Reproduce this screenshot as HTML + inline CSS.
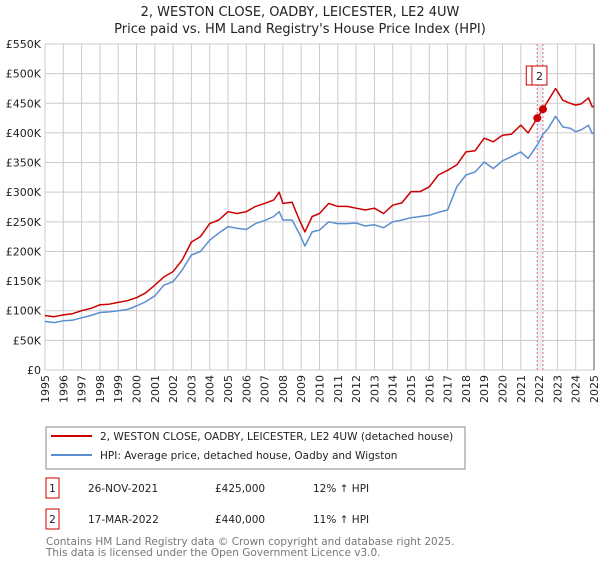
<!DOCTYPE html>
<html><head><meta charset="utf-8"><style>
body{margin:0;background:#fff;font-family:"DejaVu Sans","Liberation Sans",sans-serif;}
svg text{font-family:"DejaVu Sans","Liberation Sans",sans-serif;}
</style></head><body>
<svg width="600" height="560" viewBox="0 0 600 560">
<text x="300" y="16" text-anchor="middle" font-size="13" fill="#222">2, WESTON CLOSE, OADBY, LEICESTER, LE2 4UW</text>
<text x="300" y="33" text-anchor="middle" font-size="13" fill="#222">Price paid vs. HM Land Registry's House Price Index (HPI)</text>
<g id="grid"></g>
<g id="band"></g>
<g id="series"></g>
<g id="axes"></g>
<g id="markers"></g>
<rect x="46" y="427" width="419" height="42" fill="#fff" stroke="#888"/>
<line x1="51" y1="436" x2="92" y2="436" stroke="#cc0000" stroke-width="2"/>
<text x="100" y="440" font-size="10.5" fill="#222">2, WESTON CLOSE, OADBY, LEICESTER, LE2 4UW (detached house)</text>
<line x1="51" y1="455" x2="92" y2="455" stroke="#5b8fd0" stroke-width="2"/>
<text x="100" y="459" font-size="10.5" fill="#222">HPI: Average price, detached house, Oadby and Wigston</text>
<g>
<rect x="46" y="478" width="13" height="20" fill="#fff" stroke="#cc0000"/>
<text x="52.5" y="492" text-anchor="middle" font-size="10.5" fill="#222">1</text>
<text x="88" y="492" font-size="10.5" fill="#222">26-NOV-2021</text>
<text x="215" y="492" font-size="10.5" fill="#222">£425,000</text>
<text x="313" y="492" font-size="10.5" fill="#222">12% ↑ HPI</text>
</g>
<g>
<rect x="46" y="509" width="13" height="20" fill="#fff" stroke="#cc0000"/>
<text x="52.5" y="523" text-anchor="middle" font-size="10.5" fill="#222">2</text>
<text x="88" y="523" font-size="10.5" fill="#222">17-MAR-2022</text>
<text x="215" y="523" font-size="10.5" fill="#222">£440,000</text>
<text x="313" y="523" font-size="10.5" fill="#222">11% ↑ HPI</text>
</g>
<text x="46" y="545" font-size="10.5" fill="#777">Contains HM Land Registry data © Crown copyright and database right 2025.</text>
<text x="46" y="556" font-size="10.5" fill="#777">This data is licensed under the Open Government Licence v3.0.</text>
</svg>
<script>
const years = [1995,1995.5,1996,1996.5,1997,1997.5,1998,1998.5,1999,1999.5,2000,2000.5,2001,2001.5,2002,2002.5,2003,2003.5,2004,2004.5,2005,2005.5,2006,2006.5,2007,2007.5,2007.8,2008,2008.5,2008.9,2009.2,2009.6,2010,2010.5,2011,2011.5,2012,2012.5,2013,2013.5,2014,2014.5,2015,2015.5,2016,2016.5,2017,2017.5,2018,2018.5,2019,2019.5,2020,2020.5,2021,2021.4,2021.9,2022.2,2022.5,2022.9,2023.3,2023.7,2024,2024.3,2024.7,2024.9,2025];
const hpiValues = [82,80,83,84,88,92,97,98,100,102,108,115,125,143,149,169,194,200,219,231,242,239,237,247,252,259,267,253,253,230,209,233,236,250,247,247,248,243,245,240,250,253,257,259,261,266,270,309,329,334,351,340,353,360,368,357,380,397,408,428,410,408,402,405,413,399,400];
const propValues = [92,90,93,95,100,104,110,111,114,117,122,130,143,157,166,186,216,225,247,253,267,264,267,276,281,287,300,281,283,253,233,259,264,281,276,276,273,270,273,264,278,282,301,301,309,329,337,346,368,370,391,385,396,398,413,400,425,440,455,475,455,450,447,449,459,444,445];
const saleYears = [2021.9, 2022.21];
const saleValues = [425, 440];
const saleLabels = ["1","2"];
const yTicks = [0,50,100,150,200,250,300,350,400,450,500,550];
const yTickLabels = ["£0","£50K","£100K","£150K","£200K","£250K","£300K","£350K","£400K","£450K","£500K","£550K"];
const xTickYears = [1995,1996,1997,1998,1999,2000,2001,2002,2003,2004,2005,2006,2007,2008,2009,2010,2011,2012,2013,2014,2015,2016,2017,2018,2019,2020,2021,2022,2023,2024,2025];

const NS="http://www.w3.org/2000/svg";
const X0=45,X1=594,Y0=370,Y1=44;
const xs=y=>X0+(y-1995)/(2025-1995)*(X1-X0);
const ys=v=>Y0-v/550*(Y0-Y1);
function mk(tag,attrs,parent){const e=document.createElementNS(NS,tag);for(const k in attrs)e.setAttribute(k,attrs[k]);parent.appendChild(e);return e;}
const grid=document.getElementById('grid'),axes=document.getElementById('axes'),series=document.getElementById('series'),band=document.getElementById('band'),markers=document.getElementById('markers');
yTicks.forEach((v,i)=>{
  const l=mk('line',{x1:X0,x2:X1,y1:ys(v),y2:ys(v),stroke:'#cccccc','stroke-width':1},grid);
  
  
  const t=mk('text',{x:X0-4,y:ys(v)+4,'text-anchor':'end','font-size':'11',fill:'#222'},axes);
  t.textContent=yTickLabels[i];
  
  
});
xTickYears.forEach(yr=>{
  const l=mk('line',{x1:xs(yr),x2:xs(yr),y1:Y1,y2:Y0,stroke:'#cccccc','stroke-width':1},grid);
  
  
  const x=xs(yr),y=Y0+5;
  const t=mk('text',{x:x+4,y:y,'text-anchor':'end','font-size':'11',fill:'#222',transform:`rotate(-90 ${x+4} ${y})`},axes);
  t.textContent=String(yr);
  
  
});
const b=mk('rect',{x:xs(saleYears[0]),y:Y1,width:xs(saleYears[1])-xs(saleYears[0]),height:Y0-Y1,fill:'#e6eef8'},band);


saleYears.forEach(yr=>{
  const l=mk('line',{x1:xs(yr),x2:xs(yr),y1:Y1,y2:Y0,stroke:'#ee6666','stroke-width':1,'stroke-dasharray':'2,2'},band);
  
  
});
const rl=mk('line',{x1:X1,x2:X1,y1:Y1,y2:Y0,stroke:'#555','stroke-width':1},grid);


function path(vals,color,name){
  const d=vals.map((v,i)=>(i?'L':'M')+xs(years[i]).toFixed(1)+','+ys(v).toFixed(1)).join(' ');
  const p=mk('path',{d:d,fill:'none',stroke:color,'stroke-width':1.5,'stroke-linejoin':'round'},series);
  
  
}
path(hpiValues,'#5b8fd0','hpi-line');
path(propValues,'#cc0000','property-line');
saleYears.forEach((yr,i)=>{
  const c=mk('circle',{cx:xs(yr),cy:ys(saleValues[i]),r:4,fill:'#cc0000'},markers);
  
  
});
saleYears.forEach((yr,i)=>{
  const g=mk('g',{},markers);
  
  
  const x=xs(yr)-11;
  mk('rect',{x:x,y:66,width:15,height:19,fill:'#fff',stroke:'#cc0000'},g);
  const t=mk('text',{x:x+7.5,y:80,'text-anchor':'middle','font-size':'11',fill:'#222'},g);
  t.textContent=saleLabels[i];
});
</script>
</body></html>
